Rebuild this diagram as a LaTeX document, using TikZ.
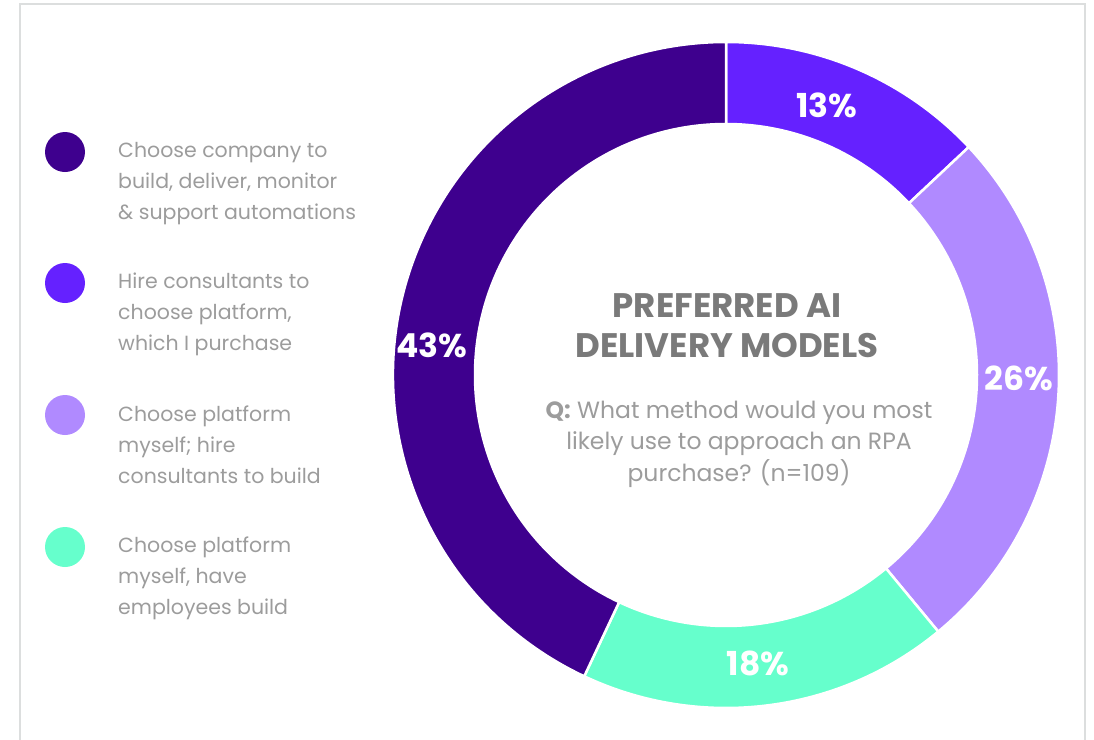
\documentclass[tikz,border=0pt]{standalone}
\usepackage{fontspec}
\setmainfont{Poppins}
\definecolor{cdark}{HTML}{3E008E}
\definecolor{cviolet}{HTML}{6521FF}
\definecolor{clight}{HTML}{B08AFF}
\definecolor{cmint}{HTML}{66FFCC}
\definecolor{legtext}{HTML}{9C9C9C}
\definecolor{titletext}{HTML}{7A7A7A}
\definecolor{framegray}{HTML}{DCDEDE}
\tikzset{
  seg/.style={draw=white, line width=2.5pt, line join=miter},
  pct/.style={text=white, font=\fontsize{33}{33}\selectfont\bfseries, inner sep=0pt},
  dot/.style={circle, minimum size=40pt, inner sep=0pt},
  legend/.style={anchor=base west, align=left, text=legtext, inner sep=0pt,
    font=\fontsize{20.5}{31}\selectfont},
}
\begin{document}
\begin{tikzpicture}[x=1pt,y=-1pt]
\useasboundingbox (0,0) rectangle (1094,739);
\draw[framegray, line width=1.5pt] (20,760) -- (20,4) -- (1085,4) -- (1085,760);
\begin{scope}[shift={(726,375)}, x=1pt, y=1pt]
  \def\Ro{333}\def\Ri{251}
  \path[seg, fill=cviolet] (90:\Ro) arc[start angle=90, end angle=43.2, radius=\Ro] -- (43.2:\Ri) arc[start angle=43.2, end angle=90, radius=\Ri] -- cycle;
  \path[seg, fill=clight] (43.2:\Ro) arc[start angle=43.2, end angle=-50.4, radius=\Ro] -- (-50.4:\Ri) arc[start angle=-50.4, end angle=43.2, radius=\Ri] -- cycle;
  \path[seg, fill=cmint] (-50.4:\Ro) arc[start angle=-50.4, end angle=-115.2, radius=\Ro] -- (-115.2:\Ri) arc[start angle=-115.2, end angle=-50.4, radius=\Ri] -- cycle;
  \path[seg, fill=cdark] (-115.2:\Ro) arc[start angle=-115.2, end angle=-270, radius=\Ro] -- (-270:\Ri) arc[start angle=-270, end angle=-115.2, radius=\Ri] -- cycle;
\end{scope}
\node[pct] (p13) at (827,105) {13\%};
\node[pct] (p26) at (1019,378) {26\%};
\node[pct] (p18) at (758,663) {18\%};
\node[pct] (p43) at (432,345) {43\%};

\node[anchor=base, align=center, text=titletext, inner sep=0pt,
  font=\fontsize{34}{40}\selectfont\bfseries] (title) at (727,357)
  {PREFERRED AI\\DELIVERY MODELS};
\node[anchor=base, align=center, text=legtext, inner sep=0pt,
  font=\fontsize{23.5}{31.5}\selectfont] (q) at (739,481)
  {\textbf{Q:} What method would you most\\likely use to approach an RPA\\purchase? (n=109)};

\node[dot, fill=cdark] (d1) at (65,152) {};
\node[dot, fill=cviolet] (d2) at (65,283) {};
\node[dot, fill=clight] (d3) at (65,415) {};
\node[dot, fill=cmint] (d4) at (65,547) {};
\node[legend] (l1) at (118,219) {Choose company to\\build, deliver, monitor\\\&~support automations};
\node[legend] (l2) at (118,350) {Hire consultants to\\choose platform,\\which I purchase};
\node[legend] (l3) at (118,483) {Choose platform\\myself; hire\\consultants to build};
\node[legend] (l4) at (118,614) {Choose platform\\myself, have\\employees build};
\end{tikzpicture}
\end{document}
